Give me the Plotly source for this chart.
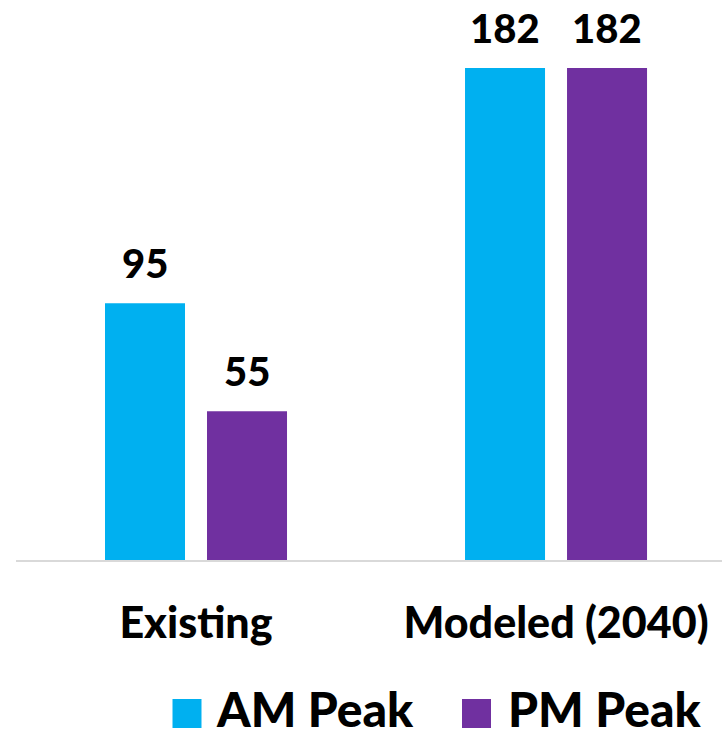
import plotly.graph_objects as go

# Peak-hour volumes by scenario
categories = ["Existing", "Modeled (2040)"]
series_names = ["AM Peak", "PM Peak"]
am_peak = [95, 182]
pm_peak = [55, 182]
series_values = [am_peak, pm_peak]
series_colors = ["#00B0F0", "#7030A0"]

W, H = 722, 739
ML, MR, MT, MB = 16, 0, 0, 179
PW, PH = W - ML - MR, H - MT - MB

FONT = "Lato"
WEIGHT = 900


def px_x(x):
    return (x - ML) / PW


def px_y(y):
    return (H - MB - y) / PH


fig = go.Figure()
for name, vals, color in zip(series_names, series_values, series_colors):
    fig.add_trace(go.Bar(
        x=categories, y=vals, name=name,
        marker=dict(color=color, line=dict(width=0)),
        showlegend=False,
    ))

# value labels above each bar
offsets = [-51, 51]
for vals, dx in zip(series_values, offsets):
    for cat, v in zip(categories, vals):
        fig.add_annotation(
            x=cat, y=v, xref="x", yref="y", text=str(v), showarrow=False,
            xshift=dx, yanchor="bottom", yshift=14,
            font=dict(family=FONT, size=40, color="black", weight=WEIGHT),
        )

# legend drawn as squares + labels along the bottom edge
legend_items = [(172.5, 214), (462, 506)]
for (sx, tx), name, color in zip(legend_items, series_names, series_colors):
    fig.add_shape(
        type="rect", xref="paper", yref="paper",
        x0=px_x(sx), x1=px_x(sx + 29), y0=px_y(728), y1=px_y(699),
        fillcolor=color, line=dict(width=0),
    )
    fig.add_annotation(
        x=px_x(tx), y=px_y(H - 0.5), xref="paper", yref="paper", text=name,
        showarrow=False, xanchor="left", yanchor="bottom",
        font=dict(family=FONT, size=48, color="black", weight=WEIGHT),
    )

fig.update_layout(
    width=W, height=H,
    margin=dict(l=ML, r=MR, t=MT, b=MB),
    paper_bgcolor="white", plot_bgcolor="white",
    barmode="group", bargap=0.4333, bargroupgap=0.2157,
    xaxis=dict(
        type="category", range=[-0.5, 1.461],
        showline=True, linecolor="#d9d9d9", linewidth=2,
        ticks="", showgrid=False, ticklabelstandoff=24,
        tickfont=dict(family=FONT, size=43, color="black", weight=WEIGHT),
    ),
    yaxis=dict(range=[0, 207.2], visible=False, showgrid=False),
    showlegend=False,
)

fig.write_html("out.html")
